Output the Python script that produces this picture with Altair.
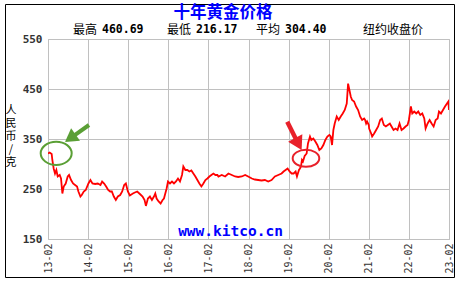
import altair as alt
import pandas as pd

# months since 2013-02, price (CNY per gram)
months = [0, 0.5, 1.1, 1.3, 1.7, 2.1, 2.5, 2.9, 3.5, 3.9, 4.3, 4.7, 5.3, 5.9, 6.3, 6.9, 7.5, 8.1, 8.7, 9.1,
          9.7, 10.1, 10.7, 11.3, 12.1, 12.7, 13.3, 14.1, 14.9, 15.7, 16.2, 16.8, 17.4, 18.0, 18.6, 19.1, 19.7,
          20.3, 20.9, 21.6, 22.2, 22.8, 23.3, 23.9, 24.5, 25.4, 26.0, 26.7, 27.5, 28.3, 28.9, 29.3, 29.9,
          30.5, 31.1, 31.7, 32.1, 32.5, 33.1, 33.7, 34.3, 34.7, 35.1, 35.5, 35.9, 36.5, 37.1, 37.7, 38.3,
          38.9, 39.5, 40.1, 40.5, 41.1, 41.7, 42.3, 42.9, 43.5, 44.1, 44.7, 45.3, 45.9, 46.5, 47.1, 47.7,
          48.3, 48.9, 49.5, 50.1, 50.7, 51.0, 52.0, 53.0, 54.0, 55.0, 56.0, 56.9, 58.0, 59.0, 59.9, 61.0,
          61.9, 62.9, 63.9, 64.9, 65.9, 66.9, 67.9, 68.9, 69.9, 70.5, 71.1, 71.7, 72.3, 72.9, 73.5, 74.1,
          74.5, 75.1, 75.4, 75.7, 76.0, 76.3, 76.8, 77.4, 77.8, 78.4, 78.8, 79.4, 80.0, 80.6, 81.2, 81.8,
          82.4, 83.0, 83.6, 84.2, 84.6, 85.0, 85.4, 85.8, 86.4, 87.0, 87.6, 88.2, 88.8, 89.4, 89.8, 90.2,
          90.6, 91.0, 91.6, 92.2, 92.8, 93.4, 94.0, 94.6, 94.9, 95.2, 95.5, 96.0, 96.1, 96.7, 97.0, 97.6,
          98.2, 98.8, 99.4, 99.9, 100.5, 101.1, 101.7, 102.3, 102.8, 103.4, 104.0, 104.6, 105.2, 105.8,
          106.4, 107.0, 107.6, 108.0, 108.6, 109.0, 109.6, 110.2, 110.8, 111.4, 112.0, 112.6, 113.0, 113.6,
          114.2, 114.8, 115.4, 116.0, 116.6, 117.0, 117.6, 118.2, 118.8, 119.4, 119.8, 120.0]
prices = [321, 323, 320, 308, 291, 281, 288, 275, 278, 271, 241, 255, 261, 275, 278, 268, 261, 258, 255, 245,
          235, 238, 245, 248, 261, 268, 261, 260, 261, 258, 265, 261, 255, 248, 245, 245, 235,
          228, 235, 238, 245, 258, 261, 245, 237, 241, 243, 245, 240, 235, 228, 216.17, 231,
          235, 228, 235, 241, 231, 225, 221, 228, 231, 241, 251, 265, 261, 265, 261, 265,
          271, 265, 278, 295, 288, 288, 285, 287, 281, 275, 268, 261, 255, 261, 268, 271,
          275, 278, 281, 278, 278, 275, 278, 275, 281, 278, 275, 274, 275, 278, 275, 271,
          269, 268, 267, 268, 265, 268, 275, 278, 281, 285, 288, 291, 285, 281, 281, 285,
          275, 288, 291, 295, 308, 305, 316, 321, 341, 355, 348, 351, 345, 338, 328, 331,
          338, 348, 355, 358, 355, 338, 368, 381, 395, 388, 395, 401, 408, 421, 460.69, 448,
          435, 428, 425, 415, 408, 395, 388, 391, 388, 381, 385, 378, 371, 361, 355, 361,
          368, 375, 388, 391, 378, 375, 378, 381, 375, 368, 371, 368, 381, 368,
          371, 375, 378, 388, 415, 401, 405, 401, 405, 398, 401, 391, 371, 381,
          388, 381, 375, 388, 391, 405, 401, 408, 415, 421, 425, 408]

stat_labels = ["最高", "最低", "平均"]
stat_values = ["460.69", "216.17", "304.40"]
title_text = "十年黄金价格"
unit_text = "纽约收盘价"
y_title = ["人", "民", "币", "/", "克"]
watermark = "www.kitco.cn"
x_ticks = list(range(0, 121, 12))
y_ticks = list(range(150, 551, 50))

# annotation anchors in data space
green_circle = {"m": [2.45], "p": [321.4]}
green_arrow = {"m": [12.27], "p": [378.0], "m2": [7.06], "p2": [353.4]}
red_circle = {"m": [77.2], "p": [311.4]}
red_arrow = {"m": [71.6], "p": [384.6], "m2": [74.7], "p2": [343.0]}

df = pd.DataFrame({"m": months, "p": prices})

xs = alt.Scale(domain=[0, 120], nice=False, zero=False)
ys = alt.Scale(domain=[150, 550], nice=False, zero=False)

GRID = "#c0c0c0"
LABEL = "#333333"
MONO = "DejaVu Sans Mono"
CJK = "Noto Sans CJK SC"

line = alt.Chart(df).mark_line(color="#ff0000", strokeWidth=1.8, clip=True).encode(
    x=alt.X("m:Q", scale=xs, axis=alt.Axis(
        values=x_ticks, labelExpr="(13 + datum.value/12) + '-02'", labelAngle=270,
        labelFont=MONO, labelFontSize=10, labelColor=LABEL, labelPadding=4,
        labelFlush=False, labelOverlap=False, ticks=False, domain=False,
        grid=True, gridColor=GRID, gridOpacity=1, title=None)),
    y=alt.Y("p:Q", scale=ys, axis=alt.Axis(
        values=y_ticks, labelExpr="datum.value % 100 == 50 ? datum.label : ''",
        labelFont=MONO, labelFontSize=11, labelFontWeight="bold", labelColor=LABEL,
        labelPadding=6, labelFlush=False, labelOverlap=False, ticks=False, domain=False,
        grid=True, gridColor=GRID, gridOpacity=1, title=None)),
)

ell_green = alt.Chart(pd.DataFrame(green_circle)).mark_point(
    shape="M -1 0 A 1 0.75 0 1 0 1 0 A 1 0.75 0 1 0 -1 0 Z",
    size=961, filled=False, stroke="#5a9f35", strokeWidth=2, opacity=1
).encode(x=alt.X("m:Q", scale=xs), y=alt.Y("p:Q", scale=ys))

ell_red = alt.Chart(pd.DataFrame(red_circle)).mark_point(
    shape="M -1 0 A 1 0.64 0 1 0 1 0 A 1 0.64 0 1 0 -1 0 Z",
    size=708, filled=False, stroke="#e8202a", strokeWidth=2, opacity=1
).encode(x=alt.X("m:Q", scale=xs), y=alt.Y("p:Q", scale=ys))

HEAD = "M 0 -1 L 0.95 0.6 L -0.95 0.6 Z"

g_shaft = alt.Chart(pd.DataFrame(green_arrow)).mark_rule(color="#5a9f35", strokeWidth=4).encode(
    x=alt.X("m:Q", scale=xs), y=alt.Y("p:Q", scale=ys), x2="m2:Q", y2="p2:Q")
g_head = alt.Chart(pd.DataFrame(green_arrow)).mark_point(
    shape=HEAD, size=263, filled=True, fill="#5a9f35", strokeWidth=0, opacity=1, angle=234.7
).encode(x=alt.X("m2:Q", scale=xs), y=alt.Y("p2:Q", scale=ys))

r_shaft = alt.Chart(pd.DataFrame(red_arrow)).mark_rule(color="#e8202a", strokeWidth=4.5).encode(
    x=alt.X("m:Q", scale=xs), y=alt.Y("p:Q", scale=ys), x2="m2:Q", y2="p2:Q")
r_head = alt.Chart(pd.DataFrame(red_arrow)).mark_point(
    shape=HEAD, size=289, filled=True, fill="#e8202a", strokeWidth=0, opacity=1, angle=151.8
).encode(x=alt.X("m2:Q", scale=xs), y=alt.Y("p2:Q", scale=ys))

one = pd.DataFrame({"a": [0]})


def txt(text, x, y, **kw):
    return alt.Chart(one).mark_text(text=text, **kw).encode(x=alt.value(x), y=alt.value(y))


texts = [
    txt(title_text, 175, -26, font=CJK, fontSize=16.5, fontWeight="bold", color="#0000ff",
        align="center", baseline="middle"),
    txt(unit_text, 315, -9.5, font=CJK, fontSize=12, color="#000000", align="left", baseline="middle"),
    txt(watermark, 182.5, 193, font=MONO, fontSize=14.5, fontWeight="bold", color="#0000ff",
        align="center", baseline="middle"),
    txt(y_title, -37, 66, font=CJK, fontSize=11, color="#000000", align="center", baseline="top",
        lineHeight=13),
]
label_x = [25, 119, 208]
value_x = [54, 148, 237]
for lab, val, lx, vx in zip(stat_labels, stat_values, label_x, value_x):
    texts.append(txt(lab, lx, -9.5, font=CJK, fontSize=12, color="#000000", align="left", baseline="middle"))
    texts.append(txt(val, vx, -9.5, font=MONO, fontSize=11.5, fontWeight="bold", color="#000000",
                     align="left", baseline="middle"))

frame = alt.Chart(one).mark_rect(filled=False, stroke="#000000", strokeWidth=1).encode(
    x=alt.value(-42.5), x2=alt.value(406.5), y=alt.value(-34.5), y2=alt.value(238.5))

chart = alt.layer(line, ell_green, ell_red, g_shaft, g_head, r_shaft, r_head, frame, *texts).properties(
    width=401, height=200,
    padding={"left": 48, "top": 39, "right": 9, "bottom": 44},
    autosize=alt.AutoSizeParams(type="none"),
    background="#ffffff",
).configure_view(stroke=GRID, strokeWidth=1)

chart.save("out.html", embed_options={"renderer": "svg", "actions": False})
